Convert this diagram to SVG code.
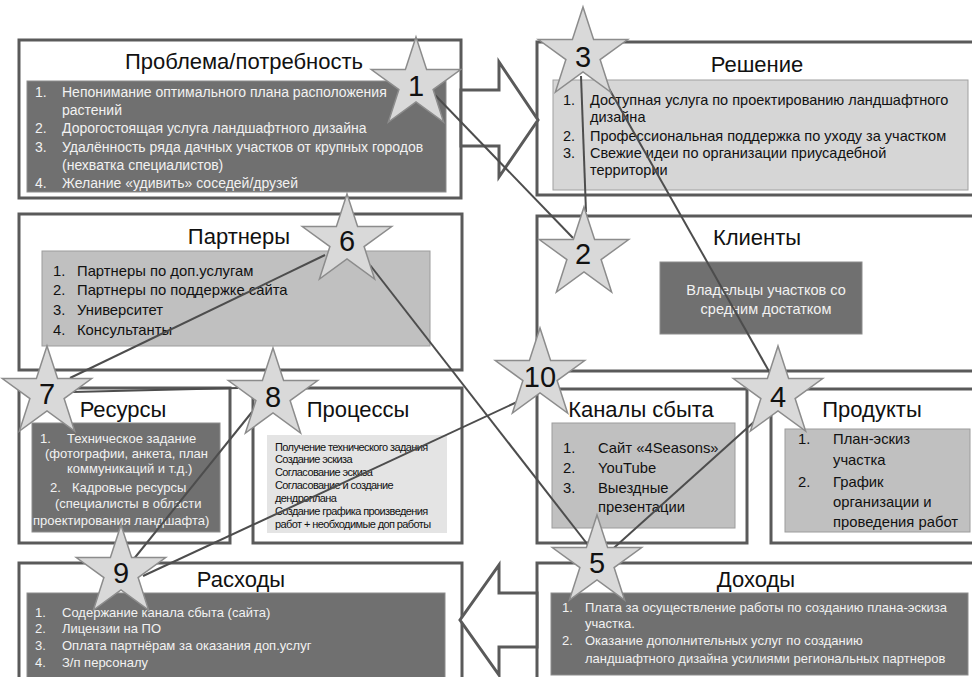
<svg xmlns="http://www.w3.org/2000/svg" xmlns:xlink="http://www.w3.org/1999/xlink" width="972" height="677" viewBox="0 0 972 677">
<style>
text{font-family:"Liberation Sans",Arial,sans-serif}
.box{fill:#fff;stroke:#5a5a5a;stroke-width:3}
.dark{fill:#707070;stroke:#8c8c8c;stroke-width:1}
.mid{fill:#c0c0c0;stroke:#9c9c9c;stroke-width:1}
.light{fill:#d6d6d6;stroke:#a0a0a0;stroke-width:1}
.pale{fill:#e4e4e4}
.title{font-size:22px;fill:#111;text-anchor:middle}
.wt{fill:#f2f2f2}
.bt{fill:#111}
.s13{font-size:14px}
.s125{font-size:13px}
.s14{font-size:14.5px}
.s15{font-size:14.8px}
.proc{font-size:11px;letter-spacing:-0.6px;fill:#111}
.conn{stroke:#4d4d4d;stroke-width:2;fill:none}
.arrow{fill:#fff;stroke:#5a5a5a;stroke-width:3}
.num{font-size:29px;fill:#111;text-anchor:middle}
</style>
<defs>
<polygon id="star" points="0,-47 10.6,-14.6 44.7,-14.5 17.1,5.6 27.6,38 0,18 -27.6,38 -17.1,5.6 -44.7,-14.5 -10.6,-14.6" fill="#d9d9d9" stroke="#8c8c8c" stroke-width="1.5" stroke-linejoin="miter"/>
</defs>

<g id="problem">
<rect class="box" x="19" y="40" width="442" height="158"/>
<text class="title" x="244" y="69">Проблема/потребность</text>
<rect class="dark" x="27" y="81" width="419" height="111"/>
<g class="wt s13">
<text x="35" y="97">1.</text><text x="62" y="97">Непонимание оптимального плана расположения</text>
<text x="62" y="115">растений</text>
<text x="35" y="133">2.</text><text x="62" y="133">Дорогостоящая услуга ландшафтного дизайна</text>
<text x="35" y="152">3.</text><text x="62" y="152">Удалённость ряда дачных участков от крупных городов</text>
<text x="62" y="170">(нехватка специалистов)</text>
<text x="35" y="188">4.</text><text x="62" y="188">Желание «удивить» соседей/друзей</text>
</g>
</g>

<g id="solution">
<rect class="box" x="537" y="42" width="445" height="153"/>
<text class="title" x="757" y="72">Решение</text>
<rect class="light" x="553" y="80" width="415" height="110"/>
<g class="bt s14">
<text x="563" y="105">1.</text><text x="590" y="105">Доступная услуга по проектированию ландшафтного</text>
<text x="590" y="122">дизайна</text>
<text x="563" y="141">2.</text><text x="590" y="141">Профессиональная поддержка по уходу за участком</text>
<text x="563" y="158">3.</text><text x="590" y="158">Свежие идеи по организации приусадебной</text>
<text x="590" y="175">территории</text>
</g>
</g>

<g id="partners">
<rect class="box" x="19" y="214" width="443" height="156"/>
<text class="title" x="239" y="244">Партнеры</text>
<rect class="mid" x="42" y="251" width="388" height="95"/>
<g class="bt s15">
<text x="53" y="276">1.</text><text x="77" y="276">Партнеры по доп.услугам</text>
<text x="53" y="295">2.</text><text x="77" y="295">Партнеры по поддержке сайта</text>
<text x="53" y="315">3.</text><text x="77" y="315">Университет</text>
<text x="53" y="335">4.</text><text x="77" y="335">Консультанты</text>
</g>
</g>

<g id="clients">
<rect class="box" x="537" y="216" width="445" height="155"/>
<text class="title" x="757" y="245">Клиенты</text>
<rect class="dark" x="660" y="262" width="202" height="72"/>
<g class="wt s14" text-anchor="middle">
<text x="766" y="295">Владельцы участков со</text>
<text x="766" y="314">средним достатком</text>
</g>
</g>

<g id="resources">
<rect class="box" x="19" y="388" width="211" height="155"/>
<text class="title" x="123" y="417">Ресурсы</text>
<rect class="dark" x="32" y="423" width="188" height="109"/>
<g class="wt" font-size="13">
<text x="40" y="443">1.</text><text x="67" y="443">Техническое задание</text>
<text x="45" y="458">(фотографии, анкета, план</text>
<text x="67" y="473">коммуникаций и т.д.)</text>
<text x="50" y="492">2.</text><text x="72" y="492">Кадровые ресурсы</text>
<text x="55" y="508">(специалисты в области</text>
<text x="33" y="525">проектирования ландшафта)</text>
</g>
</g>

<g id="processes">
<rect class="box" x="253" y="388" width="209" height="155"/>
<text class="title" x="358" y="417">Процессы</text>
<rect class="pale" x="267" y="435" width="180" height="98"/>
<g class="proc">
<text x="275" y="451">Получение технического задания</text>
<text x="275" y="463">Создание эскиза</text>
<text x="275" y="476">Согласование эскиза</text>
<text x="275" y="489">Согласование и создание</text>
<text x="275" y="502">дендроплана</text>
<text x="275" y="515">Создание графика произведения</text>
<text x="275" y="528">работ + необходимые доп работы</text>
</g>
</g>

<g id="channels">
<rect class="box" x="537" y="389" width="210" height="154"/>
<text class="title" x="641" y="417">Каналы сбыта</text>
<rect class="mid" x="552" y="423" width="183" height="105"/>
<g class="bt s15">
<text x="563" y="453">1.</text><text x="598" y="453">Сайт «4Seasons»</text>
<text x="563" y="473">2.</text><text x="598" y="473">YouTube</text>
<text x="563" y="493">3.</text><text x="598" y="493">Выездные</text>
<text x="598" y="512">презентации</text>
</g>
</g>

<g id="products">
<rect class="box" x="771" y="389" width="211" height="154"/>
<text class="title" x="872" y="417">Продукты</text>
<rect class="mid" x="785" y="429" width="185" height="103"/>
<g class="bt s15">
<text x="798" y="444">1.</text><text x="833" y="444">План-эскиз</text>
<text x="833" y="465">участка</text>
<text x="798" y="487">2.</text><text x="833" y="487">График</text>
<text x="833" y="507">организации и</text>
<text x="833" y="527">проведения работ</text>
</g>
</g>

<g id="costs">
<rect class="box" x="19" y="563" width="443" height="130"/>
<text class="title" x="241" y="587">Расходы</text>
<rect class="dark" x="27" y="593" width="418" height="90"/>
<g class="wt s125">
<text x="35" y="617">1.</text><text x="62" y="617">Содержание канала сбыта (сайта)</text>
<text x="35" y="633">2.</text><text x="62" y="633">Лицензии на ПО</text>
<text x="35" y="650">3.</text><text x="62" y="650">Оплата партнёрам за оказания доп.услуг</text>
<text x="35" y="667">4.</text><text x="62" y="667">З/п персоналу</text>
</g>
</g>

<g id="revenue">
<rect class="box" x="537" y="563" width="445" height="130"/>
<text class="title" x="756" y="587">Доходы</text>
<rect class="dark" x="551" y="593" width="417" height="82"/>
<g class="wt s125">
<text x="562" y="612">1.</text><text x="585" y="612">Плата за осуществление работы по созданию плана-эскиза</text>
<text x="585" y="628">участка.</text>
<text x="562" y="645">2.</text><text x="585" y="645">Оказание дополнительных услуг по созданию</text>
<text x="585" y="663">ландшафтного дизайна усилиями региональных партнеров</text>
</g>
</g>

<g id="arrows">
<polygon class="arrow" points="461,90 499,90 499,62 538,120 499,177 499,146 461,146"/>
<polygon class="arrow" points="537,593 499,593 499,565 460,620 499,675 499,647 537,647"/>
</g>

<g id="connectors">
<line class="conn" x1="435" y1="95" x2="573" y2="238"/>
<line class="conn" x1="586" y1="212" x2="581" y2="76"/>
<line class="conn" x1="603" y1="78" x2="770" y2="373"/>
<line class="conn" x1="765" y1="412" x2="606" y2="555"/>
<line class="conn" x1="588" y1="545" x2="370" y2="265"/>
<line class="conn" x1="325" y1="255" x2="70" y2="378"/>
<line class="conn" x1="72" y1="392" x2="238" y2="388"/>
<line class="conn" x1="252" y1="412" x2="133" y2="560"/>
<line class="conn" x1="143" y1="576" x2="517" y2="402"/>
</g>

<g id="star1"><use xlink:href="#star" x="416" y="84"/><text class="num" x="416" y="96">1</text></g>
<g id="star2"><use xlink:href="#star" x="584" y="254"/><text class="num" x="583" y="264">2</text></g>
<g id="star3"><use xlink:href="#star" x="583" y="54"/><text class="num" x="583" y="67">3</text></g>
<g id="star4"><use xlink:href="#star" x="778" y="393"/><text class="num" x="778" y="407">4</text></g>
<g id="star5"><use xlink:href="#star" x="597" y="562"/><text class="num" x="597" y="573">5</text></g>
<g id="star6"><use xlink:href="#star" x="347" y="241"/><text class="num" x="347" y="251">6</text></g>
<g id="star7"><use xlink:href="#star" x="47" y="393"/><text class="num" x="47" y="404">7</text></g>
<g id="star8"><use xlink:href="#star" x="273" y="395"/><text class="num" x="273" y="407">8</text></g>
<g id="star9"><use xlink:href="#star" x="121" y="572"/><text class="num" x="121" y="583">9</text></g>
<g id="star10"><use xlink:href="#star" x="540" y="375"/><text class="num" x="540" y="387">10</text></g>
</svg>
